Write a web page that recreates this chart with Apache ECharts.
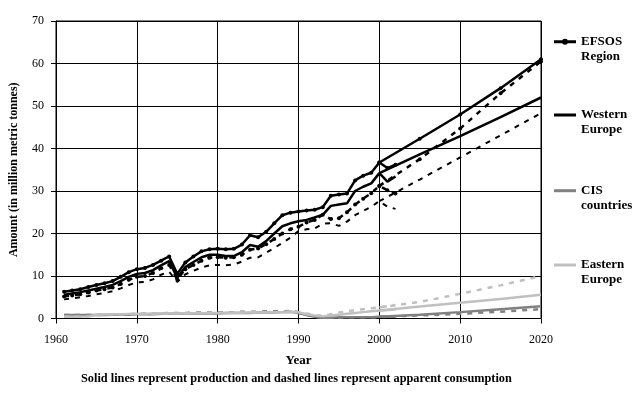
<!DOCTYPE html>
<html>
<head>
<meta charset="utf-8">
<script src="https://cdn.jsdelivr.net/npm/echarts@6/dist/echarts.min.js"></script>
<style>html,body{margin:0;padding:0;background:#fff}#c{width:642px;height:394px}</style>
</head>
<body>
<div id="c"></div>
<script>
// Historical years
const years = [1961,1962,1963,1964,1965,1966,1967,1968,1969,1970,
  1971,1972,1973,1974,1975,1976,1977,1978,1979,1980,
  1981,1982,1983,1984,1985,1986,1987,1988,1989,1990,
  1991,1992,1993,1994,1995,1996,1997,1998,1999,2000,
  2001,2002];
const efsosProd = [6.3,6.6,6.9,7.4,7.9,8.3,8.8,9.8,10.9,11.6,
  11.9,12.6,13.6,14.6,10.5,13.2,14.6,15.8,16.3,16.4,
  16.3,16.4,17.4,19.6,19.1,20.4,22.4,24.3,24.9,25.2,
  25.4,25.6,26.2,28.9,29.2,29.4,32.5,33.6,34.3,36.7,
  35.4,36.2];
const weProd = [5.6,5.9,6.2,6.6,7.0,7.4,7.9,8.8,9.8,10.5,
  10.7,11.4,12.5,13.5,9.6,12.1,13.3,14.4,15.0,15.0,
  14.7,14.7,15.6,17.3,16.9,18.2,20.0,21.7,22.4,22.9,
  23.2,23.8,24.4,26.5,26.8,27.1,30.0,31.0,31.8,34.2,
  32.2,33.4];
const efsosCons = [5.2,5.4,5.7,6.1,6.6,6.9,7.3,8.1,9.1,9.8,
  10.0,10.7,11.8,12.6,9.2,11.6,12.6,13.6,14.3,14.4,
  14.3,14.4,15.0,16.2,16.5,17.5,18.7,20.0,21.0,21.6,
  22.6,23.2,24.4,23.4,23.6,25.0,26.8,28.2,29.5,31.2,
  30.2,29.4];
const weCons = [4.5,4.7,5.0,5.3,5.7,6.0,6.4,7.1,7.9,8.5,
  8.6,9.2,10.3,11.0,8.6,10.4,11.2,12.0,12.5,12.6,
  12.5,12.7,13.4,14.3,14.4,15.5,16.6,17.8,19.0,20.6,
  21.0,21.2,22.3,22.4,21.8,22.8,24.3,25.3,26.3,27.6,
  26.3,25.8];
const cisProd = [0.8,0.8,0.8,0.8,0.8,0.8,0.9,0.9,0.9,1.0,
  1.0,1.0,1.1,1.1,1.1,1.1,1.2,1.2,1.2,1.2,
  1.3,1.3,1.3,1.3,1.4,1.4,1.4,1.5,1.6,1.3,
  0.8,0.4,0.2,0.2,0.3,0.3,0.3,0.3,0.3,0.4,
  0.4,0.4];
const cisCons = [0.8,0.8,0.8,0.8,0.8,0.9,0.9,1.0,1.0,1.1,
  1.1,1.2,1.2,1.3,1.3,1.3,1.4,1.4,1.4,1.5,
  1.5,1.5,1.6,1.6,1.6,1.7,1.7,1.7,1.8,1.5,
  0.9,0.4,0.2,0.2,0.2,0.3,0.3,0.3,0.3,0.3,
  0.4,0.4];
const eeProd = [0.4,0.4,0.4,0.5,0.9,0.95,1.0,1.0,1.05,1.1,
  1.1,1.15,1.15,1.2,1.2,1.2,1.25,1.25,1.3,1.3,
  1.3,1.35,1.35,1.4,1.4,1.4,1.45,1.5,1.6,1.5,
  1.0,0.7,0.5,0.7,0.9,1.1,1.3,1.5,1.7,1.9,
  2.0,2.1];
const eeCons = [0.4,0.4,0.4,0.5,0.9,0.95,1.0,1.0,1.05,1.1,
  1.1,1.15,1.2,1.2,1.2,1.25,1.25,1.3,1.3,1.35,
  1.35,1.4,1.4,1.45,1.45,1.5,1.5,1.55,1.6,1.5,
  1.2,0.8,0.6,1.0,1.4,1.7,2.0,2.2,2.4,2.6,
  2.9,3.2];

// Projections
const projYears = [2000,2005,2010,2015,2020];
const efsosProdProj = [36.7,42.3,48.0,54.2,61.0];
const weProdProj = [34.2,38.6,42.9,47.4,52.0];
const efsosConsProj = [31.2,37.5,44.7,53.0,60.5];
const weConsProj = [27.6,32.7,37.9,43.1,48.3];
const cisProdProj = [0.4,0.9,1.5,2.2,2.9];
const cisConsProj = [0.4,0.7,1.1,1.6,2.2];
const eeProdProj = [1.9,2.8,3.7,4.6,5.6];
const eeConsProj = [2.6,3.9,5.8,7.8,10.0];

const legendNames = ['EFSOS Region','Western Europe','CIS countries','Eastern Europe'];

const FONT = 'Liberation Serif';
const pairs = (xs, vs) => xs.map((x, i) => [x, vs[i]]);

function mk(name, xs, vs, color, width, dashed, marker) {
  return {
    name: name, type: 'line', data: pairs(xs, vs),
    showSymbol: !!marker, symbol: marker ? 'circle' : 'none', symbolSize: 4,
    itemStyle: {color: color},
    lineStyle: {color: color, width: width, type: dashed ? [5, 6] : 'solid'},
    silent: true, z: 2
  };
}

const BLACK = '#000000', DGRAY = '#808080', LGRAY = '#c0c0c0';
const series = [
  mk('EFSOS Region', years, efsosProd, BLACK, 2.5, false, true),
  mk('EFSOS Region', projYears, efsosProdProj, BLACK, 2.5, false, true),
  mk('EFSOS cons', years, efsosCons, BLACK, 2.5, true, true),
  mk('EFSOS cons', projYears, efsosConsProj, BLACK, 2.5, true, true),
  mk('Western Europe', years, weProd, BLACK, 2.5, false, false),
  mk('Western Europe', projYears, weProdProj, BLACK, 2.5, false, false),
  mk('WE cons', years, weCons, BLACK, 2, true, false),
  mk('WE cons', projYears, weConsProj, BLACK, 2, true, false),
  mk('CIS countries', years, cisProd, DGRAY, 2.5, false, false),
  mk('CIS countries', projYears, cisProdProj, DGRAY, 2.5, false, false),
  mk('CIS cons', years, cisCons, DGRAY, 2.5, true, false),
  mk('CIS cons', projYears, cisConsProj, DGRAY, 2.5, true, false),
  mk('Eastern Europe', years, eeProd, LGRAY, 2.5, false, false),
  mk('Eastern Europe', projYears, eeProdProj, LGRAY, 2.5, false, false),
  mk('EE cons', years, eeCons, LGRAY, 2.5, true, false),
  mk('EE cons', projYears, eeConsProj, LGRAY, 2.5, true, false)
];

const legendColors = [BLACK, BLACK, DGRAY, LGRAY];
const legendCenters = [41.7, 115, 190.7, 265];
const LINE_ICON = 'path://M0,2L22,2L22,5L0,5Z';
const DOT_ICON = 'path://M0,2L22,2L22,5L0,5Z M11,0.5A3,3,0,1,1,11,6.5A3,3,0,1,1,11,0.5Z';
const legends = legendNames.map((n, i) => ({
  data: [{name: n, icon: i === 0 ? DOT_ICON : LINE_ICON}],
  orient: 'vertical', left: 554, top: legendCenters[i] - 22.5,
  padding: 0, itemWidth: 22, itemHeight: 7, selectedMode: false,
  itemStyle: {color: legendColors[i], borderWidth: 0},
  lineStyle: {width: 0},
  formatter: (name) => ' \n' + name.replace(' ', '\n'),
  textStyle: {fontFamily: FONT, fontWeight: 'bold', fontSize: 13, color: '#000', lineHeight: 15}
}));

const chart = echarts.init(document.getElementById('c'), null, {renderer: 'canvas'});
chart.setOption({
  animation: false,
  backgroundColor: '#fff',
  grid: {left: 54, right: 101, top: 21, bottom: 75.5, show: true, borderColor: '#000', borderWidth: 1, containLabel: false},
  legend: legends,
  xAxis: {
    type: 'value', min: 1960, max: 2020, interval: 10,
    name: 'Year', nameLocation: 'middle', nameGap: 36,
    nameTextStyle: {fontFamily: FONT, fontWeight: 'bold', fontSize: 13, color: '#000'},
    axisLine: {lineStyle: {color: '#000', width: 1}},
    axisTick: {show: true, inside: false, length: 5, lineStyle: {color: '#000'}},
    axisLabel: {fontFamily: FONT, fontSize: 12, color: '#000', margin: 15,
      formatter: (v) => String(v)},
    splitLine: {show: true, lineStyle: {color: '#000', width: 1}}
  },
  yAxis: {
    type: 'value', min: 0, max: 70, interval: 10,
    name: 'Amount (in million metric tonnes)', nameLocation: 'middle', nameGap: 36, nameRotate: 90,
    nameMoveOverlap: false,
    nameTextStyle: {fontFamily: FONT, fontWeight: 'bold', fontSize: 12, color: '#000'},
    axisLine: {show: true, lineStyle: {color: '#000', width: 1}},
    axisTick: {show: true, inside: false, length: 5, lineStyle: {color: '#000'}},
    axisLabel: {fontFamily: FONT, fontSize: 12, color: '#000', margin: 12},
    splitLine: {show: true, lineStyle: {color: '#000', width: 1}}
  },
  graphic: [{
    type: 'text', left: 81, top: 373,
    style: {text: 'Solid lines represent production and dashed lines represent apparent consumption',
      font: 'bold 12.3px "Liberation Serif"', fill: '#000'}
  }],
  series: series
});
</script>
</body>
</html>
